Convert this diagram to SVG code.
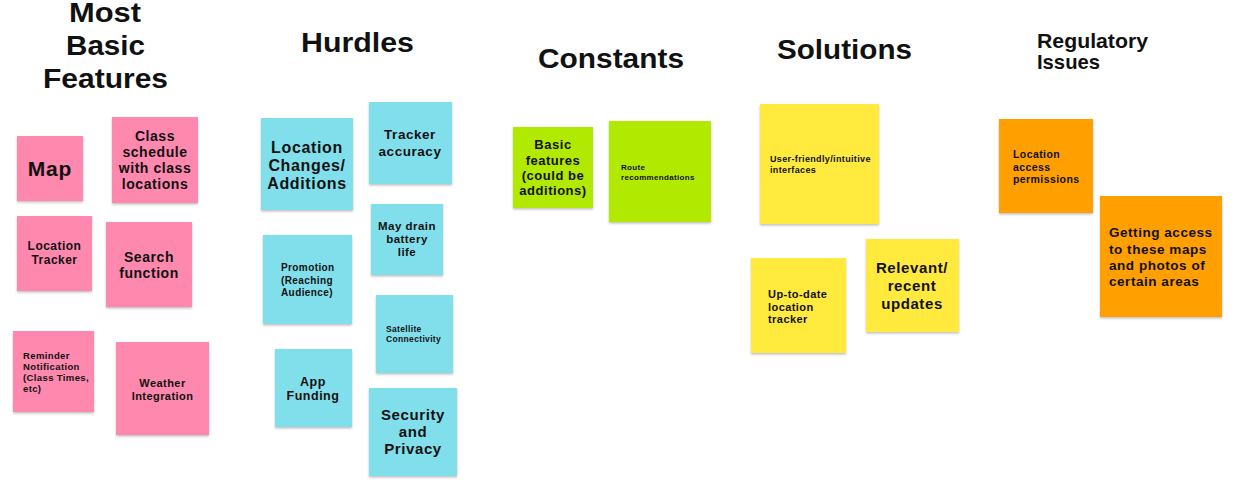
<svg xmlns="http://www.w3.org/2000/svg" width="1242" height="497" viewBox="0 0 1242 497">
<defs>
<filter id="sh" x="-10%" y="-10%" width="120%" height="125%">
<feDropShadow dx="0" dy="1.5" stdDeviation="1.2" flood-color="#000" flood-opacity="0.25"/>
</filter>
<style>
text{font-family:"Liberation Sans","Open Sans",Arial,sans-serif;font-weight:700;fill:#111;letter-spacing:0.04em}
.title{font-size:27px;text-anchor:middle;letter-spacing:0}
.c{text-anchor:middle}
.pink{fill:#fe88ae;filter:url(#sh)}
.cyan{fill:#80dfeb;filter:url(#sh)}
.green{fill:#b2e900;filter:url(#sh)}
.yellow{fill:#ffea3e;filter:url(#sh)}
.orange{fill:#ff9f00;filter:url(#sh)}
</style>
</defs>
<rect width="1242" height="497" fill="#fff"/>

<g id="titles">
<text class="title" x="105" y="22" style="font-size:28px" textLength="72" lengthAdjust="spacingAndGlyphs">Most</text>
<text class="title" x="105.5" y="55" style="font-size:28px" textLength="79" lengthAdjust="spacingAndGlyphs">Basic</text>
<text class="title" x="105.5" y="88" style="font-size:28px" textLength="125" lengthAdjust="spacingAndGlyphs">Features</text>
<text class="title" x="357.5" y="51.5" textLength="113" lengthAdjust="spacingAndGlyphs">Hurdles</text>
<text class="title" x="611" y="67.5" textLength="146" lengthAdjust="spacingAndGlyphs">Constants</text>
<text class="title" x="844.5" y="58.5" textLength="135" lengthAdjust="spacingAndGlyphs">Solutions</text>
<text x="1037" y="47.5" style="font-size:21px;letter-spacing:0" textLength="111" lengthAdjust="spacingAndGlyphs">Regulatory</text>
<text x="1037" y="68.5" style="font-size:21px;letter-spacing:0" textLength="63" lengthAdjust="spacingAndGlyphs">Issues</text>
</g>

<g id="connectors"></g>

<g id="map"><rect class="pink" x="17" y="136" width="66" height="65"/>
<text class="c" x="50" y="175.5" style="font-size:21px">Map</text></g>

<g id="class-schedule"><rect class="pink" x="112" y="117" width="86" height="86"/>
<text class="c" style="font-size:14px"><tspan x="155" y="141">Class</tspan><tspan x="155" y="157">schedule</tspan><tspan x="155" y="173">with class</tspan><tspan x="155" y="189">locations</tspan></text></g>

<g id="location-tracker"><rect class="pink" x="17" y="216" width="75" height="75"/>
<text class="c" style="font-size:12px"><tspan x="54.5" y="250">Location</tspan><tspan x="54.5" y="264">Tracker</tspan></text></g>

<g id="search-function"><rect class="pink" x="106" y="222" width="86" height="85"/>
<text class="c" style="font-size:14px"><tspan x="149" y="262">Search</tspan><tspan x="149" y="277.5">function</tspan></text></g>

<g id="reminder"><rect class="pink" x="13" y="331" width="81" height="81"/>
<text style="font-size:9.5px"><tspan x="23" y="358.5">Reminder</tspan><tspan x="23" y="369.5">Notification</tspan><tspan x="23" y="380.5">(Class Times,</tspan><tspan x="23" y="391.5">etc)</tspan></text></g>

<g id="weather"><rect class="pink" x="116" y="342" width="93" height="93"/>
<text class="c" style="font-size:11px"><tspan x="162.5" y="387">Weather</tspan><tspan x="162.5" y="400">Integration</tspan></text></g>

<g id="location-changes"><rect class="cyan" x="261" y="118" width="92" height="92"/>
<text class="c" style="font-size:16px"><tspan x="307" y="153">Location</tspan><tspan x="307" y="171">Changes/</tspan><tspan x="307" y="188.5">Additions</tspan></text></g>

<g id="tracker-accuracy"><rect class="cyan" x="369" y="102" width="83" height="82"/>
<text class="c" style="font-size:13.5px"><tspan x="410" y="139">Tracker</tspan><tspan x="410" y="156">accuracy</tspan></text></g>

<g id="battery"><rect class="cyan" x="371" y="204" width="72" height="71"/>
<text class="c" style="font-size:11.5px"><tspan x="407" y="230">May drain</tspan><tspan x="407" y="243">battery</tspan><tspan x="407" y="256">life</tspan></text></g>

<g id="promotion"><rect class="cyan" x="263" y="235" width="89" height="89"/>
<text style="font-size:10px"><tspan x="281" y="271">Promotion</tspan><tspan x="281" y="283.5">(Reaching</tspan><tspan x="281" y="296">Audience)</tspan></text></g>

<g id="satellite"><rect class="cyan" x="376" y="295" width="77" height="78"/>
<text style="font-size:8.5px"><tspan x="386" y="332">Satellite</tspan><tspan x="386" y="342">Connectivity</tspan></text></g>

<g id="app-funding"><rect class="cyan" x="275" y="349" width="77" height="78"/>
<text class="c" style="font-size:12.5px"><tspan x="313" y="385.5">App</tspan><tspan x="313" y="399.5">Funding</tspan></text></g>

<g id="security"><rect class="cyan" x="369" y="388" width="88" height="88"/>
<text class="c" style="font-size:15px"><tspan x="413" y="420">Security</tspan><tspan x="413" y="437">and</tspan><tspan x="413" y="453.5">Privacy</tspan></text></g>

<g id="basic-features"><rect class="green" x="513" y="127" width="80" height="81"/>
<text class="c" style="font-size:13px"><tspan x="553" y="149">Basic</tspan><tspan x="553" y="164.5">features</tspan><tspan x="553" y="179.5">(could be</tspan><tspan x="553" y="195">additions)</tspan></text></g>

<g id="route"><rect class="green" x="609" y="121" width="102" height="101"/>
<text style="font-size:8px"><tspan x="621" y="170">Route</tspan><tspan x="621" y="180">recommendations</tspan></text></g>

<g id="user-friendly"><rect class="yellow" x="760" y="104" width="119" height="120"/>
<text style="font-size:9px"><tspan x="770" y="162">User-friendly/intuitive</tspan><tspan x="770" y="173">interfaces</tspan></text></g>

<g id="up-to-date"><rect class="yellow" x="751" y="258" width="95" height="95"/>
<text style="font-size:11px"><tspan x="768" y="298">Up-to-date</tspan><tspan x="768" y="310.5">location</tspan><tspan x="768" y="323">tracker</tspan></text></g>

<g id="relevant"><rect class="yellow" x="866" y="239" width="93" height="93"/>
<text class="c" style="font-size:15px"><tspan x="912" y="273">Relevant/</tspan><tspan x="912" y="291">recent</tspan><tspan x="912" y="309">updates</tspan></text></g>

<g id="location-access"><rect class="orange" x="999" y="119" width="94" height="94"/>
<text style="font-size:10.5px"><tspan x="1013" y="158">Location</tspan><tspan x="1013" y="170.5">access</tspan><tspan x="1013" y="183">permissions</tspan></text></g>

<g id="getting-access"><rect class="orange" x="1100" y="196" width="122" height="121"/>
<text style="font-size:13.5px"><tspan x="1109" y="237">Getting access</tspan><tspan x="1109" y="253.5">to these maps</tspan><tspan x="1109" y="270">and photos of</tspan><tspan x="1109" y="286">certain areas</tspan></text></g>
</svg>
